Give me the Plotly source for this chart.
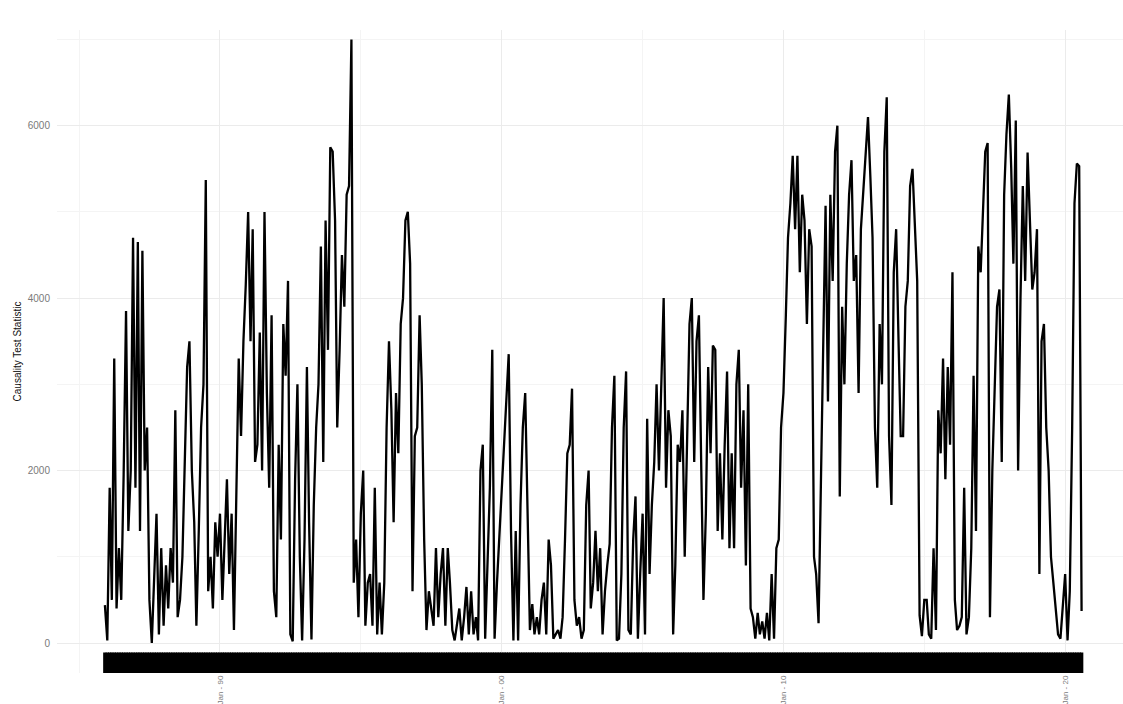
import pandas as pd
import plotly.graph_objects as go

start_month = "1985-12-01"
values = [
    440, 30, 1800, 500, 3300, 400, 1100, 500, 1950, 3850,
    1300, 2000, 4700, 1800, 4650, 1300, 4550, 2000, 2500, 500,
    0, 800, 1500, 100, 1100, 200, 900, 400, 1100, 700,
    2700, 300, 500, 1000, 2200, 3200, 3500, 2000, 1400, 200,
    1300, 2500, 3000, 5370, 600, 1000, 400, 1400, 1000, 1500,
    500, 1200, 1900, 800, 1500, 150, 2000, 3300, 2400, 3500,
    4150, 5000, 3500, 4800, 2100, 2300, 3600, 2000, 5000,
    2900, 1800, 3800, 600, 300, 2300, 1200, 3700, 3100, 4200,
    100, 20, 1900, 3000, 1000, 30, 1200, 3200, 1400, 40,
    1600, 2500, 3000, 4600, 2100, 4900, 3400, 5750, 5700, 4900,
    2500, 3400, 4500, 3900, 5200, 5300, 7000, 700, 1200, 300,
    1500, 2000, 200, 700, 800, 200, 1800, 100, 700, 100,
    700, 2500, 3500, 2700, 1400, 2900, 2200, 3700, 4000, 4900,
    5000, 4400, 600, 2400, 2500, 3800, 3000, 1200, 150, 600,
    400, 200, 1100, 300, 800, 1100, 200, 1100, 700, 150,
    30, 200, 400, 30, 300, 650, 100, 600, 100, 300,
    30, 2000, 2300, 50, 1000, 1800, 3400, 50, 700, 1200,
    1700, 2300, 2800, 3350, 1300, 30, 1300, 30, 1600, 2500,
    2900, 1600, 150, 450, 100, 300, 100, 500, 700, 100,
    1200, 900, 50, 100, 150, 50, 300, 1200, 2200, 2300,
    2950, 500, 200, 300, 50, 150, 1600, 2000, 400, 700,
    1300, 600, 1100, 100, 600, 900, 1150, 2500, 3100, 30,
    50, 800, 2500, 3150, 150, 100, 1200, 1700, 50, 800,
    1500, 100, 2600, 800, 1600, 2100, 3000, 2000, 3000, 4000,
    1800, 2700, 2400, 100, 900, 2300, 2100, 2700, 1000, 2500,
    3700, 4000, 2100, 3500, 3800, 2000, 500, 1500, 3200, 2200,
    3450, 3400, 1300, 2200, 1200, 2300, 3150, 1100, 2200, 1100,
    3000, 3400, 1800, 2700, 900, 3000, 400, 300, 50, 350,
    100, 250, 50, 350, 30, 800, 50, 1100, 1200, 2500,
    2900, 3800, 4700, 5100, 5650, 4800, 5650, 4300, 5200, 4900,
    3700, 4800, 4600, 1000, 800, 230, 1800, 3500, 5070, 2800,
    5200, 4200, 5700, 6000, 1700, 3900, 3000, 4400, 5200, 5600,
    4200, 4500, 2900, 4800, 5200, 5700, 6100, 5400, 4700, 2500,
    1800, 3700, 3000, 5700, 6330, 2400, 1600, 4300, 4800, 3500,
    2400, 2400, 3900, 4200, 5300, 5500, 4900, 4200, 320, 80,
    500, 500, 100, 50, 1100, 150, 2700, 2200, 3300, 1900,
    3200, 2300, 4300, 500, 150, 200, 300, 1800, 100, 300,
    1100, 3100, 1300, 4600, 4300, 5100, 5700, 5800, 300, 2000,
    3000, 3900, 4100, 2100, 5200, 5900, 6360, 5500, 4400, 6060,
    2000, 4000, 5300, 4200, 5690, 5000, 4100, 4300, 4800, 800,
    3500, 3700, 2500, 2000, 1000, 700, 400, 100, 50, 400,
    800, 30, 600, 2500, 5100, 5560, 5530, 370,
]

dates = pd.date_range(start_month, periods=len(values), freq="MS")

y_major_ticks = [0, 2000, 4000, 6000]
y_tick_labels = ["0", "2000", "4000", "6000"]
y_minor_ticks = [1000, 3000, 5000, 7000]
x_tick_dates = ["1990-01-01", "2000-01-01", "2010-01-01", "2020-01-01"]
x_tick_labels = ["Jan - 90", "Jan - 00", "Jan - 10", "Jan - 20"]
x_minor_dates = ["1985-01-01", "1995-01-01", "2005-01-01", "2015-01-01"]

fig = go.Figure()

fig.add_trace(go.Scatter(
    x=dates, y=values, mode="lines",
    line=dict(color="black", width=2.3),
    hoverinfo="skip", showlegend=False,
))

# rug of the observation dates along the bottom
fig.add_trace(go.Scatter(
    x=dates, y=[-240] * len(dates), mode="markers",
    marker=dict(symbol="line-ns-open", size=16, color="black",
                line=dict(color="black", width=3.5)),
    hoverinfo="skip", showlegend=False,
))

fig.update_layout(
    width=1123, height=704,
    margin=dict(l=57, r=0, t=30, b=31),
    paper_bgcolor="white", plot_bgcolor="white",
    font=dict(family="Liberation Sans, Arial", color="#444"),
    xaxis=dict(
        type="date",
        range=["1984-03-20", "2022-01-20"],
        tickvals=x_tick_dates, ticktext=x_tick_labels,
        tickangle=-90, tickfont=dict(size=8, color="#7a7a7a"),
        showgrid=True, gridcolor="#ebebeb", gridwidth=1,
        minor=dict(tickvals=x_minor_dates,
                   showgrid=True, gridcolor="#f4f4f4", gridwidth=1),
        zeroline=False, showline=False, ticks="",
    ),
    yaxis=dict(
        range=[-348, 7110],
        tickvals=y_major_ticks, ticktext=y_tick_labels,
        tickfont=dict(size=10, color="#7a7a7a"),
        showgrid=True, gridcolor="#ebebeb", gridwidth=1,
        minor=dict(tickvals=y_minor_ticks,
                   showgrid=True, gridcolor="#f4f4f4", gridwidth=1),
        zeroline=False, showline=False, ticks="",
        ticklabelstandoff=6,
        title=dict(text="Causality Test Statistic",
                   font=dict(size=10, color="#111"), standoff=4),
    ),
)

fig.write_html("out.html")
